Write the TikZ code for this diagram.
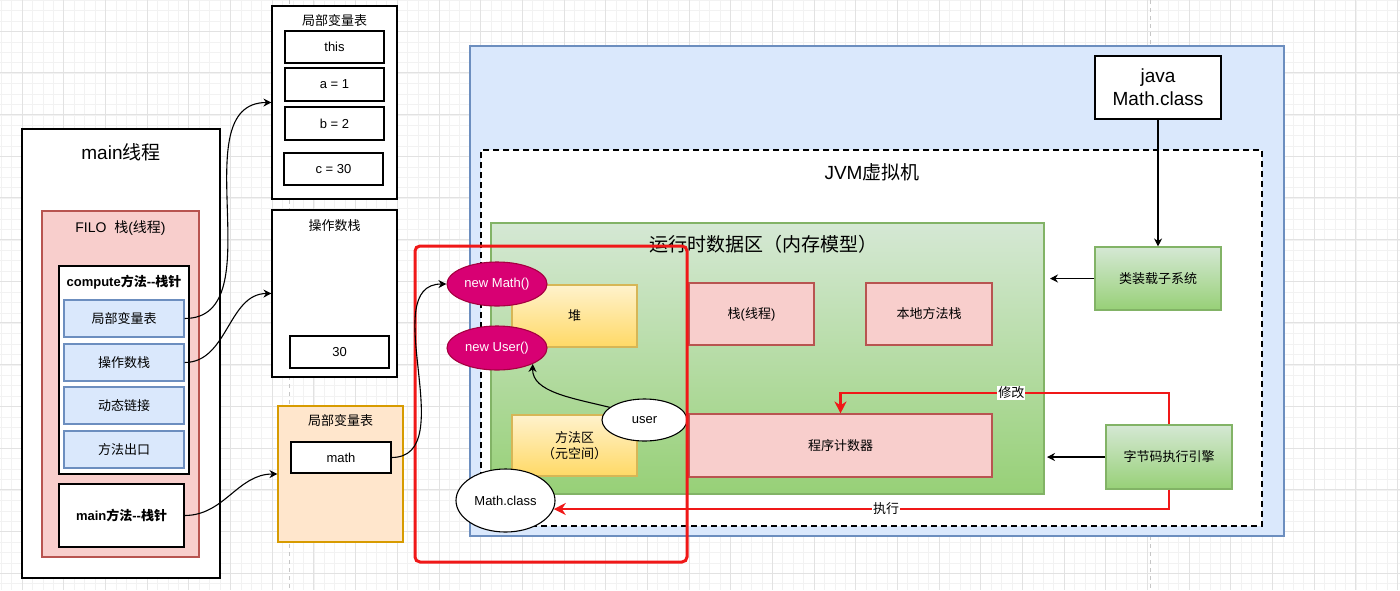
\documentclass[tikz,border=0pt]{standalone}
\usepackage{fontspec}
\setmainfont{Liberation Sans}
\newfontfamily\cjk{Noto Sans CJK SC}
\usetikzlibrary{arrows.meta,shapes.geometric}

\definecolor{pinkfill}{HTML}{F8CECC}
\definecolor{pinkline}{HTML}{B85450}
\definecolor{bluefill}{HTML}{DAE8FC}
\definecolor{blueline}{HTML}{6C8EBF}
\definecolor{orgfill}{HTML}{FFE6CC}
\definecolor{orgline}{HTML}{D79B00}
\definecolor{yeltop}{HTML}{FFF2CC}
\definecolor{yelbot}{HTML}{FFD966}
\definecolor{yelline}{HTML}{D6B656}
\definecolor{grntop}{HTML}{D5E8D4}
\definecolor{grnbot}{HTML}{97D077}
\definecolor{grnline}{HTML}{82B366}
\definecolor{magfill}{HTML}{D80073}
\definecolor{magline}{HTML}{A50040}
\definecolor{redline}{HTML}{F01818}
\definecolor{gridminor}{HTML}{F2F2F2}
\definecolor{gridmajor}{HTML}{E2E2E2}

\newcommand{\zh}[1]{{\cjk #1}}

\tikzset{
  every node/.style={font=\fontsize{13}{16}\selectfont, inner sep=0pt, align=center},
  bigtxt/.style={font=\fontsize{19}{23}\selectfont},
  whitebox/.style={draw=black, fill=white, line width=1.1pt},
  thickbox/.style={draw=black, fill=white, line width=1.8pt},
  pinkbox/.style={draw=pinkline, fill=pinkfill, line width=1.1pt},
  bluebox/.style={draw=blueline, fill=bluefill, line width=1.1pt},
  orgbox/.style={draw=orgline, fill=orgfill, line width=1.1pt},
  yelbox/.style={draw=yelline, top color=yeltop, bottom color=yelbot, line width=1.1pt},
  grnbox/.style={draw=grnline, top color=grntop, bottom color=grnbot, line width=1.1pt},
  magell/.style={ellipse, draw=magline, fill=magfill, text=white, line width=1.1pt},
  whiteell/.style={ellipse, draw=black, fill=white, line width=1.1pt},
  link/.style={->, line width=1.1pt},
  redlink/.style={-{Stealth[length=12pt,width=12pt]}, draw=redline, line width=2.8pt},
  tag/.style={fill=white, inner sep=1pt},
}

\begin{document}
\begin{tikzpicture}[x=1pt, y=-1pt, >={Stealth[length=8pt,width=8pt]}]
    \useasboundingbox (0,0) rectangle (1400,590);
    \fill[white] (0,0) rectangle (1400,590);

    % background grid
    \foreach \i in {0,...,134} \draw[gridminor, line width=0.5pt] ({1.16+10.42*\i},0) -- ++(0,590);
    \foreach \j in {0,...,56} \draw[gridminor, line width=0.5pt] (0,{0.16+10.42*\j}) -- ++(1400,0);
    \foreach \i in {0,...,33} \draw[gridmajor, line width=0.6pt] ({22+41.68*\i},0) -- ++(0,590);
    \foreach \j in {0,...,13} \draw[gridmajor, line width=0.6pt] (0,{31+41.68*\j}) -- ++(1400,0);
    \draw[gray!45, line width=0.7pt, dash pattern=on 4pt off 4pt] (289,0) -- (289,590);
    \draw[gray!45, line width=0.7pt, dash pattern=on 4pt off 4pt] (1150,0) -- (1150,590);

    % main thread
    \node[thickbox, minimum width=198, minimum height=449] (mainthr) at (121,353.5) {};
    \node[bigtxt] (mainttl) at (121,152) {main\zh{线程}};
    \node[pinkbox, minimum width=157, minimum height=346] (filo) at (120.5,384) {};
    \node[font=\fontsize{14}{17}\selectfont] (filottl) at (120.5,228) {FILO\ \ \zh{栈}(\zh{线程})};
    \node[whitebox, minimum width=130, minimum height=208] (compute) at (124,370) {};
    \node (computettl) at (124,282) {\bfseries compute\zh{方法}-{}-\zh{栈针}};
    \node[bluebox, minimum width=120, minimum height=37] (lvt) at (124,318.5) {\zh{局部变量表}};
    \node[bluebox, minimum width=120, minimum height=37] (opstk) at (124,362.5) {\zh{操作数栈}};
    \node[bluebox, minimum width=120, minimum height=37] (dynlink) at (124,405.5) {\zh{动态链接}};
    \node[bluebox, minimum width=120, minimum height=37] (mexit) at (124,449.5) {\zh{方法出口}};
    \node[whitebox, minimum width=125, minimum height=63] (mainm) at (121.5,515.5) {\bfseries main\zh{方法}-{}-\zh{栈针}};

    % compute frame contents
    \node[whitebox, minimum width=125, minimum height=193] (lvtab) at (334.5,102.5) {};
    \node (lvtabttl) at (334.5,21) {\zh{局部变量表}};
    \node[whitebox, minimum width=99, minimum height=32] (vthis) at (334.5,47) {this};
    \node[whitebox, minimum width=99, minimum height=33] (va) at (334.5,84.5) {a = 1};
    \node[whitebox, minimum width=99, minimum height=33] (vb) at (334.5,123.5) {b = 2};
    \node[whitebox, minimum width=99, minimum height=32] (vc) at (333.5,169) {c = 30};
    \node[whitebox, minimum width=125, minimum height=167] (opstack) at (334.5,293.5) {};
    \node (opstackttl) at (334.5,226) {\zh{操作数栈}};
    \node[whitebox, minimum width=99, minimum height=32] (v30) at (339.5,352) {30};

    % main frame contents
    \node[orgbox, minimum width=125, minimum height=136] (lvtab2) at (340.5,474) {};
    \node (lvtab2ttl) at (340.5,421) {\zh{局部变量表}};
    \node[whitebox, minimum width=100, minimum height=31] (mathvar) at (341,457.5) {math};

    % JVM
    \node[draw=blueline, fill=bluefill, line width=1.8pt, minimum width=814, minimum height=490] (jvm) at (877,291) {};
    \node[draw=black, fill=white, line width=1.8pt, dash pattern=on 6pt off 4pt, minimum width=781, minimum height=376] (vm) at (871.5,338) {};
    \node[bigtxt] (vmttl) at (872,172) {JVM\zh{虚拟机}};
    \node[grnbox, minimum width=553, minimum height=271] (runtime) at (767.5,358.5) {};
    \node[bigtxt] (runtimettl) at (763,244) {\zh{运行时数据区（内存模型）}};
    \node[yelbox, minimum width=125, minimum height=62] (heap) at (574.5,316) {\zh{堆}};
    \node[yelbox, minimum width=125, minimum height=61] (metasp) at (574.5,445.5) {\zh{方法区}\\\zh{（元空间）}};
    \node[pinkbox, minimum width=125, minimum height=62] (stackthr) at (751.5,314) {\zh{栈}(\zh{线程})};
    \node[pinkbox, minimum width=126, minimum height=62] (native) at (929,314) {\zh{本地方法栈}};
    \node[pinkbox, minimum width=303, minimum height=63] (pc) at (840.5,445.5) {\zh{程序计数器}};
    \node[thickbox, bigtxt, minimum width=126, minimum height=63] (javacls) at (1158,87.5) {java\\Math.class};
    \node[grnbox, minimum width=126, minimum height=63] (loader) at (1158,278.5) {\zh{类装载子系统}};
    \node[grnbox, minimum width=126, minimum height=64] (engine) at (1169,457) {\zh{字节码执行引擎}};

    % objects
    \node[magell, minimum width=100, minimum height=44] (newmath) at (497,284) {new Math()};
    \node[magell, minimum width=100, minimum height=44] (newuser) at (497,348) {new User()};
    \node[whiteell, minimum width=85, minimum height=42] (user) at (644.5,420) {user};
    \node[whiteell, minimum width=99, minimum height=63] (mathcls) at (505.5,500.5) {Math.class};
    \node[draw=redline, line width=3pt, rounded corners=5pt, minimum width=272, minimum height=316] (focus) at (551,404) {};

    % connectors
    \draw[link] (lvt.east) to[out=0, in=180] (lvtab.west);
    \draw[link] (opstk.east) to[out=0, in=180] (opstack.west);
    \draw[link] (mainm.east) to[out=0, in=180] (lvtab2.west);
    \draw[link] (mathvar.east) to[out=0, in=180] (newmath.west);
    \draw[link] (user.160) .. controls (572,398) and (532,392) .. (newuser.south east);
    \draw[link] (javacls.south) -- (loader.north);
    \coordinate (loadend) at (1050,278.5);
    \coordinate (engend) at (1047,457);
    \draw[link] (loader.west) -- (loadend);
    \draw[link] (engine.west) -- (engend);
    \coordinate (modturn) at (1169,393);
    \draw[redlink] (engine.north) -- (modturn) -| node[tag, pos=0.24] {\zh{修改}} (pc.north);
    \draw[redlink] (engine.south) |- node[tag, pos=0.73] {\zh{执行}} (mathcls.-10);
\end{tikzpicture}
\end{document}
